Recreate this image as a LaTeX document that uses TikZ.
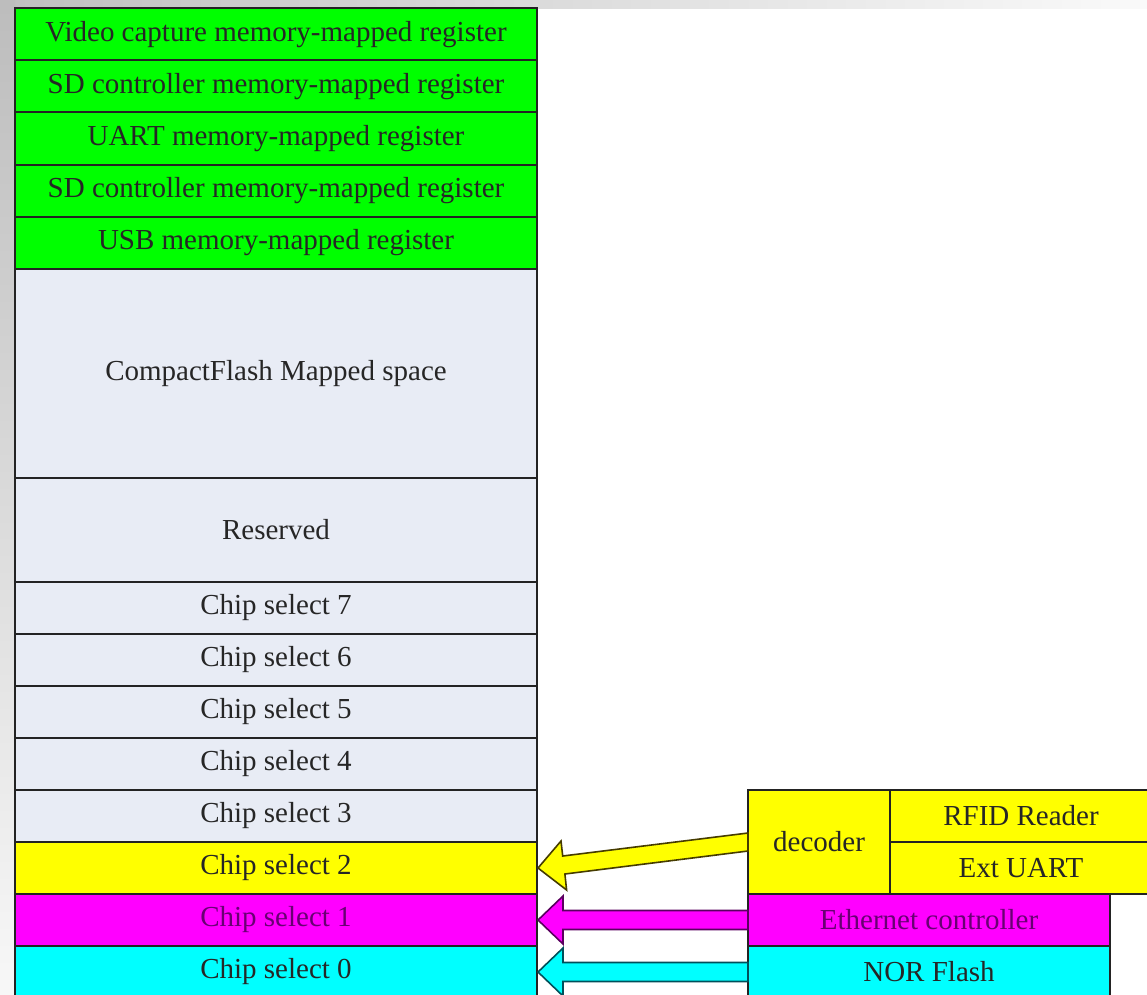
\documentclass[tikz,border=0pt]{standalone}
\usepackage{fontspec}
\setmainfont{Liberation Serif}
\newfontfamily\mapfont{Liberation Serif}
\usetikzlibrary{calc}

\definecolor{regGreen}{RGB}{0,255,0}
\definecolor{paleBlue}{RGB}{232,236,245}
\definecolor{csYellow}{RGB}{255,255,0}
\definecolor{csMagenta}{RGB}{255,0,255}
\definecolor{csCyan}{RGB}{0,255,255}
\definecolor{edge}{RGB}{35,35,35}
\definecolor{purpleText}{RGB}{105,0,115}
\definecolor{yellowEdge}{RGB}{70,60,0}
\definecolor{magentaEdge}{RGB}{90,0,95}
\definecolor{cyanEdge}{RGB}{0,80,90}

\begin{document}
\begin{tikzpicture}[x=1pt,y=-1pt,
  font=\mapfont\fontsize{29}{32}\selectfont,
  cell/.style={draw=edge, line width=2pt, inner sep=0pt, outer sep=0pt,
    anchor=north west, minimum width=522pt, minimum height=52pt,
    text=black!85},
  green cell/.style={cell, fill=regGreen, minimum height=52.2pt},
  pale cell/.style={cell, fill=paleBlue},
  side box/.style={draw=edge, line width=2pt, inner sep=0pt, outer sep=0pt,
    anchor=north west, minimum height=52pt, text=black!85},
  blockarrow/.style={line width=1.6pt, line join=miter}
]
\useasboundingbox (0,0) rectangle (1147,994);
\clip (0,0) rectangle (1147,994);

% soft grey frame along the top and left edges
\shade[left color=black!25, right color=black!2] (0,0) rectangle (1147,8);
\shade[top color=black!26, bottom color=black!3] (0,0) rectangle (15,994);

% memory map column
\node[green cell] (vid)  at (15,8)     {Video capture memory-mapped register};
\node[green cell] (sda)  at (15,60.2)  {SD controller memory-mapped register};
\node[green cell] (uart) at (15,112.4) {UART memory-mapped register};
\node[green cell] (sdb)  at (15,164.6) {SD controller memory-mapped register};
\node[green cell] (usb)  at (15,216.8) {USB memory-mapped register};
\node[pale cell, minimum height=209pt] (cf)  at (15,269) {CompactFlash Mapped space};
\node[pale cell, minimum height=104pt] (res) at (15,478) {Reserved};
\node[pale cell] (cs7) at (15,582) {Chip select 7};
\node[pale cell] (cs6) at (15,634) {Chip select 6};
\node[pale cell] (cs5) at (15,686) {Chip select 5};
\node[pale cell] (cs4) at (15,738) {Chip select 4};
\node[pale cell] (cs3) at (15,790) {Chip select 3};
\node[cell, fill=csYellow] (cs2) at (15,842) {Chip select 2};
\node[cell, fill=csMagenta, text=purpleText] (cs1) at (15,894) {Chip select 1};
\node[cell, fill=csCyan] (cs0) at (15,946) {Chip select 0};

% devices attached to the chip selects
\node[side box, fill=csYellow, minimum width=142pt, minimum height=104pt] (dec) at (748,790) {decoder};
\node[side box, fill=csYellow, minimum width=262pt] (rfid) at (890,790) {RFID Reader};
\node[side box, fill=csYellow, minimum width=262pt] (ext)  at (890,842) {Ext UART};
\node[side box, fill=csMagenta, text=purpleText, minimum width=362pt] (eth) at (748,894) {Ethernet controller};
\node[side box, fill=csCyan, minimum width=362pt] (nor) at (748,946) {NOR Flash};

% block arrows from each device to its chip select
\draw[blockarrow, fill=csYellow, draw=yellowEdge]
  ($(cs2.east)+(1,0)$) -- ($(cs2.east)+(24,-27)$) -- ($(cs2.east)+(25.7,-12)$)
  -- ($(dec.west)+(0,-9)$) -- ($(dec.west)+(0,9)$)
  -- ($(cs2.east)+(27.9,6)$) -- ($(cs2.east)+(29.6,22)$) -- cycle;
\draw[blockarrow, fill=csMagenta, draw=magentaEdge]
  ($(cs1.east)+(1,0)$) -- ($(cs1.east)+(26,-24)$) -- ($(cs1.east)+(26,-9.5)$)
  -- ($(eth.west)+(0,-9.5)$) -- ($(eth.west)+(0,9.5)$)
  -- ($(cs1.east)+(26,9.5)$) -- ($(cs1.east)+(26,24)$) -- cycle;
\draw[blockarrow, fill=csCyan, draw=cyanEdge]
  ($(cs0.east)+(1,0)$) -- ($(cs0.east)+(26,-24)$) -- ($(cs0.east)+(26,-9.5)$)
  -- ($(nor.west)+(0,-9.5)$) -- ($(nor.west)+(0,9.5)$)
  -- ($(cs0.east)+(26,9.5)$) -- ($(cs0.east)+(26,24)$) -- cycle;
\end{tikzpicture}
\end{document}
